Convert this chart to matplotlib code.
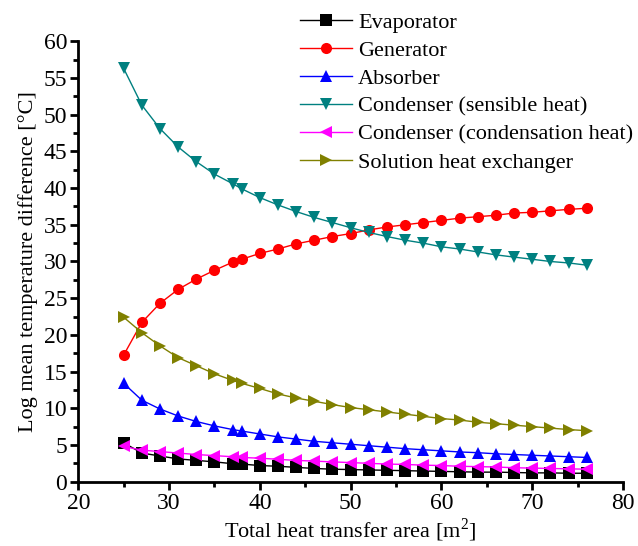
import numpy as np
import matplotlib
matplotlib.use("Agg")
import matplotlib.pyplot as plt
from matplotlib.ticker import MultipleLocator

plt.rcParams["font.family"] = ["Liberation Serif", "DejaVu Serif"]
plt.rcParams["mathtext.fontset"] = "custom"
plt.rcParams["mathtext.rm"] = "Liberation Serif"

# total heat transfer area [m2]
area = [25, 27, 29, 31, 33, 35, 37, 38, 40, 42, 44, 46, 48, 50,
        52, 54, 56, 58, 60, 62, 64, 66, 68, 70, 72, 74, 76]

# log mean temperature difference [°C] per component
evaporator = [5.3, 3.9, 3.5, 3.1, 2.9, 2.7, 2.45, 2.4, 2.2, 2.1, 1.95, 1.8, 1.7, 1.65,
              1.6, 1.55, 1.5, 1.45, 1.4, 1.35, 1.3, 1.3, 1.25, 1.2, 1.2, 1.15, 1.15]
generator = [17.25, 21.7, 24.3, 26.2, 27.6, 28.8, 29.9, 30.3, 31.1, 31.7, 32.4, 32.9, 33.4, 33.8,
             34.3, 34.7, 35.0, 35.3, 35.6, 35.9, 36.1, 36.3, 36.6, 36.7, 36.9, 37.1, 37.25]
absorber = [13.4, 11.1, 9.9, 8.95, 8.2, 7.6, 7.1, 6.9, 6.5, 6.1, 5.8, 5.5, 5.3, 5.1,
            4.9, 4.7, 4.5, 4.35, 4.2, 4.05, 3.95, 3.8, 3.7, 3.6, 3.5, 3.4, 3.3]
cond_sensible = [56.3, 51.3, 48.1, 45.6, 43.6, 41.9, 40.6, 39.9, 38.7, 37.7, 36.8, 36.0, 35.3, 34.6,
                 33.95, 33.4, 32.9, 32.5, 32.0, 31.7, 31.3, 30.9, 30.6, 30.3, 30.0, 29.8, 29.5]
cond_condensation = [4.8, 4.3, 4.1, 3.9, 3.7, 3.55, 3.4, 3.3, 3.2, 3.05, 2.9, 2.8, 2.7, 2.6,
                     2.5, 2.4, 2.35, 2.25, 2.2, 2.1, 2.05, 2.0, 1.9, 1.85, 1.8, 1.75, 1.7]
shx = [22.4, 20.3, 18.5, 16.9, 15.8, 14.7, 13.8, 13.4, 12.7, 11.95, 11.4, 10.95, 10.5, 10.1,
       9.8, 9.5, 9.2, 8.9, 8.6, 8.4, 8.1, 7.9, 7.7, 7.5, 7.3, 7.1, 6.95]

series = [
    ("Evaporator", evaporator, "black", "s"),
    ("Generator", generator, "#ff0000", "o"),
    ("Absorber", absorber, "#0000ff", "^"),
    ("Condenser (sensible heat)", cond_sensible, "#008080", "v"),
    ("Condenser (condensation heat)", cond_condensation, "#ff00ff", "<"),
    ("Solution heat exchanger", shx, "#808000", ">"),
]

fig = plt.figure(figsize=(6.38, 5.46), dpi=100)
ax = fig.add_axes([0.1227, 0.1178, 0.8538, 0.8066])

for label, vals, col, mk in series:
    ax.plot(area, vals, color=col, marker=mk, ms=8, lw=1.0, label=label,
            markeredgewidth=0)

ax.set_xlim(20, 80)
ax.set_ylim(0, 60)
ax.xaxis.set_major_locator(MultipleLocator(10))
ax.xaxis.set_minor_locator(MultipleLocator(5))
ax.yaxis.set_major_locator(MultipleLocator(5))
ax.yaxis.set_minor_locator(MultipleLocator(2.5))

for s in ("top", "right"):
    ax.spines[s].set_visible(False)
for s in ("left", "bottom"):
    ax.spines[s].set_linewidth(2.0)
ax.tick_params(which="major", direction="out", length=6, width=2.0, labelsize=17, pad=2)
ax.tick_params(which="minor", direction="out", length=3.5, width=2.0)

ax.set_xlabel("Total heat transfer area [m$^2$]", fontsize=16, labelpad=2)
ax.set_ylabel("Log mean temperature difference [°C]", fontsize=16, labelpad=4)

# legend sits partly above the plotting area, top right
leg = ax.legend(loc="upper left", bbox_to_anchor=(0.463, 0.985), bbox_transform=fig.transFigure,
                frameon=False, fontsize=16, handlelength=2.35, handletextpad=0.27,
                labelspacing=0.33, numpoints=1, borderaxespad=0, borderpad=0.2)

fig.savefig("out.png", dpi=100)
